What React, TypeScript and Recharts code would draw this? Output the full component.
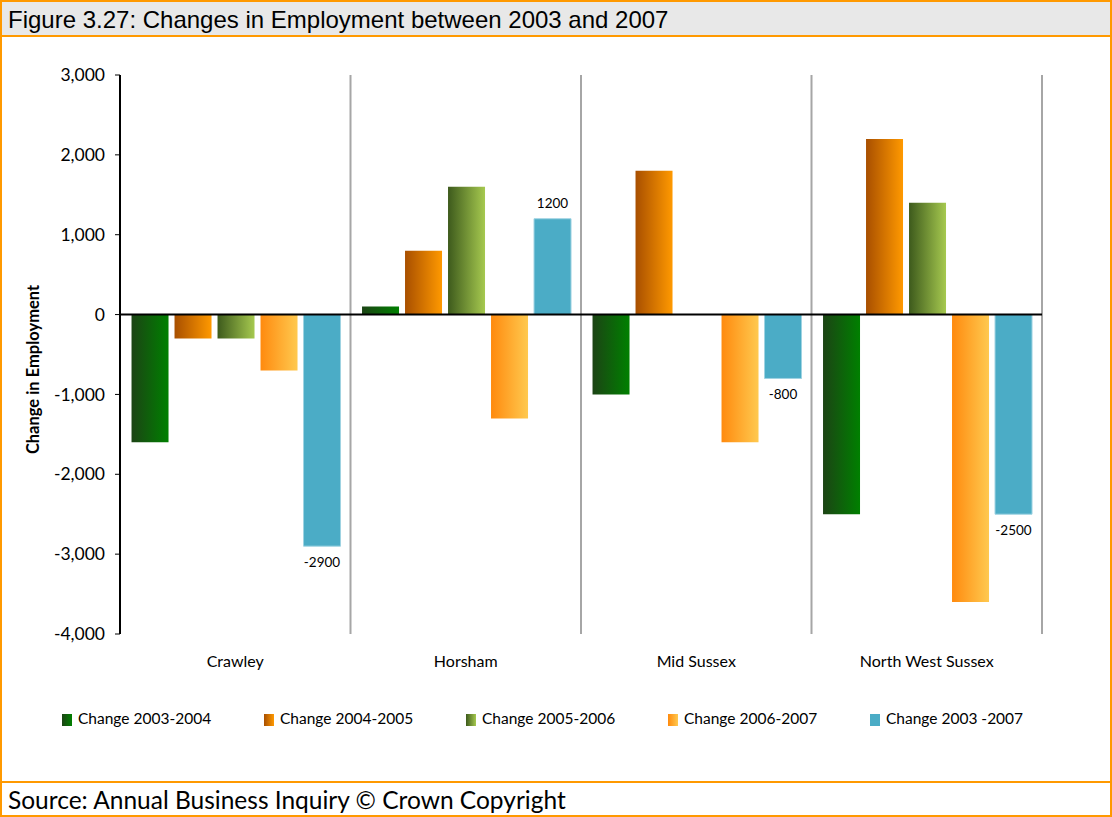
import React from 'react';
import { BarChart, Bar, XAxis, YAxis, CartesianGrid, ReferenceLine, LabelList } from 'recharts';

const categories = ['Crawley', 'Horsham', 'Mid Sussex', 'North West Sussex'];
const change0304 = [-1600, 100, -1000, -2500];
const change0405 = [-300, 800, 1800, 2200];
const change0506 = [-300, 1600, 0, 1400];
const change0607 = [-700, -1300, -1600, -3600];
const change0307 = [-2900, 1200, -800, -2500];
const yTicks = [-4000, -3000, -2000, -1000, 0, 1000, 2000, 3000];

const seriesNames = ['Change 2003-2004', 'Change 2004-2005', 'Change 2005-2006', 'Change 2006-2007', 'Change 2003 -2007'];

const data = categories.map((c, i) => ({
  name: c,
  s1: change0304[i],
  s2: change0405[i],
  s3: change0506[i],
  s4: change0607[i],
  s5: change0307[i],
}));

const gradients = [
  { id: 'g1', from: '#1c4415', to: '#008000' },
  { id: 'g2', from: '#a84f00', to: '#ff9900' },
  { id: 'g3', from: '#3d5a1c', to: '#a6c94f' },
  { id: 'g4', from: '#ff8a0e', to: '#ffc94f' },
];

const FONT = 'Lato, "Open Sans", sans-serif';
const ORANGE = '#ff9900';

const fmt = (v: number) => v.toLocaleString('en-US');

const BlueLabel = (props: any) => {
  const { x, y, width, height, value } = props;
  const top = Math.min(y, y + height);
  const bottom = Math.max(y, y + height);
  const cx = x + width / 2;
  const ty = value >= 0 ? top - 14 : bottom + 17;
  return (
    <text x={cx} y={ty} textAnchor="middle" dominantBaseline="middle" fontSize={13.5} fontFamily={FONT} fill="#000">
      {String(value)}
    </text>
  );
};

const YLabel = (props: any) => {
  const vb = props.viewBox || {};
  const cx = 35;
  const cy = (vb.y ?? 0) + (vb.height ?? 0) / 2 + 15;
  return (
    <text x={cx} y={cy} transform={`rotate(-90, ${cx}, ${cy})`} textAnchor="middle" dominantBaseline="middle" fontSize={16.5} fontWeight={700} fontFamily={FONT} fill="#000">
      Change in Employment
    </text>
  );
};

const legendFills = ['url(#lg1)', 'url(#lg2)', 'url(#lg3)', 'url(#lg4)', '#4bacc6'];

export default function App() {
  return (
    <div style={{ position: 'absolute', left: 0, top: 0, width: 1112, height: 817, background: '#fff', boxSizing: 'border-box', border: `2px solid ${ORANGE}`, overflow: 'hidden' }}>
      <div style={{ position: 'absolute', left: 0, top: 0, right: 0, height: 33, background: '#e8e8e8', borderBottom: `2px solid ${ORANGE}`, fontFamily: '"Liberation Sans", Arial, sans-serif', fontSize: 24, lineHeight: '35px', paddingLeft: 6, color: '#000', whiteSpace: 'nowrap' }}>
        Figure 3.27: Changes in Employment between 2003 and 2007
      </div>
      <div style={{ position: 'absolute', left: -2, top: -2 }}>
        <BarChart width={1112} height={700} data={data} margin={{ top: 75, left: 60, right: 70, bottom: 26 }} barCategoryGap="5%" barGap={6}>
          <defs>
            {gradients.map((g) => (
              <linearGradient key={g.id} id={g.id} x1="0" y1="0" x2="1" y2="0">
                <stop offset="0%" stopColor={g.from} />
                <stop offset="100%" stopColor={g.to} />
              </linearGradient>
            ))}
          </defs>
          <CartesianGrid
            horizontal={false}
            vertical={true}
            stroke="#a6a6a6"
            strokeWidth={2}
            verticalCoordinatesGenerator={({ offset }: any) => [1, 2, 3, 4].map((i) => offset.left + (offset.width * i) / 4)}
          />
          <XAxis dataKey="name" axisLine={false} tickLine={false} tickMargin={16} tick={{ fontSize: 16, fontFamily: FONT, fill: '#000' }} height={40} />
          <YAxis
            domain={[-4000, 3000]}
            ticks={yTicks}
            tickFormatter={fmt}
            width={60}
            axisLine={{ stroke: '#000', strokeWidth: 2 }}
            tickLine={{ stroke: '#000' }}
            tickSize={5}
            tickMargin={10}
            tick={{ fontSize: 17.5, fontFamily: FONT, fill: '#000' }}
            label={<YLabel />}
          />
          <Bar dataKey="s1" fill="url(#g1)" isAnimationActive={false} />
          <Bar dataKey="s2" fill="url(#g2)" isAnimationActive={false} />
          <Bar dataKey="s3" fill="url(#g3)" isAnimationActive={false} />
          <Bar dataKey="s4" fill="url(#g4)" isAnimationActive={false} />
          <Bar dataKey="s5" fill="#4bacc6" stroke="#9fd3e2" strokeWidth={1} isAnimationActive={false}>
            <LabelList dataKey="s5" content={BlueLabel} />
          </Bar>
          <ReferenceLine y={0} stroke="#000" strokeWidth={2} />
        </BarChart>
      </div>
      <div style={{ position: 'absolute', left: 0, top: 708, width: 1112, height: 22 }}>
        <svg width={1112} height={22} style={{ position: 'absolute', left: 0, top: 0 }}>
          <defs>
            {gradients.map((g) => (
              <linearGradient key={g.id} id={'l' + g.id} x1="0" y1="0" x2="1" y2="0">
                <stop offset="0%" stopColor={g.from} />
                <stop offset="100%" stopColor={g.to} />
              </linearGradient>
            ))}
          </defs>
          {seriesNames.map((n, i) => (
            <g key={n}>
              <rect x={60 + i * 202} y={4} width={10} height={12} fill={legendFills[i]} />
              <text x={76 + i * 202} y={10} dominantBaseline="middle" fontSize={15.5} fontFamily={FONT} fill="#000">{n}</text>
            </g>
          ))}
        </svg>
      </div>
      <div style={{ position: 'absolute', left: 0, top: 779, right: 0, bottom: 0, borderTop: `2px solid ${ORANGE}`, fontFamily: FONT, fontSize: 24.5, lineHeight: '33px', paddingLeft: 6, color: '#000', whiteSpace: 'nowrap' }}>
        Source: Annual Business Inquiry © Crown Copyright
      </div>
    </div>
  );
}
